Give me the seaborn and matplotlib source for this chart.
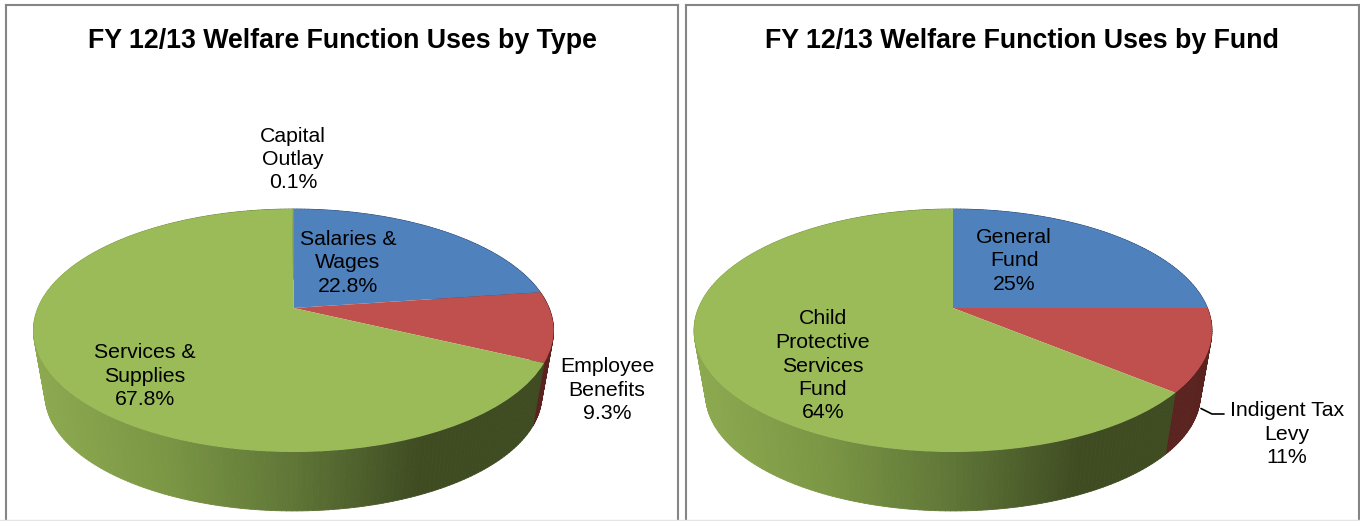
import numpy as np
import matplotlib
matplotlib.use("Agg")
import matplotlib.pyplot as plt
from matplotlib.collections import PolyCollection
from matplotlib.colors import LinearSegmentedColormap
from matplotlib.lines import Line2D
from matplotlib.transforms import Transform
import seaborn as sns

sns.set_theme(style="white")
plt.rcParams["font.family"] = ["Liberation Sans", "DejaVu Sans"]

# Budget shares, in percent
type_title = "FY 12/13 Welfare Function Uses by Type"
type_names = ["Salaries &\nWages", "Employee\nBenefits", "Services &\nSupplies", "Capital\nOutlay"]
type_shares = [22.8, 9.3, 67.8, 0.1]
type_shown = ["22.8%", "9.3%", "67.8%", "0.1%"]

fund_title = "FY 12/13 Welfare Function Uses by Fund"
fund_names = ["General\nFund", "Indigent Tax\nLevy", "Child\nProtective\nServices\nFund"]
fund_shares = [25, 11, 64]
fund_shown = ["25%", "11%", "64%"]

# The capital outlay sliver is too thin to show, so it shares the green
slice_colors = ["#4f81bd", "#c0504d", "#9bbb59", "#9bbb59"]
wall_colors = {"#4f81bd": "#2a4a75", "#c0504d": "#5a2320"}
green_wall = LinearSegmentedColormap.from_list(
    "green_wall", ["#8ca94f", "#7b9644", "#5f7637", "#3f4c22", "#3f4c22"], N=256)

W, H, DPI = 1360, 521, 100
TILT = 0.185          # perspective strength of the disc
DEPTH_Y = 117.3       # vertical scale of the disc, pixels
DROP = 65.5           # pixels between the top face apex and the bottom face apex
SHRINK = 0.955        # bottom face is further away, so a little smaller


class DiscProjection(Transform):
    """Maps the unit pie disc onto a tilted ellipse, in pixel coordinates."""
    input_dims = output_dims = 2
    is_affine = False

    def __init__(self, cx, cy, rx, scale=1.0):
        super().__init__()
        self.cx, self.cy, self.rx, self.scale = cx, cy, rx, scale

    def transform_non_affine(self, values):
        values = np.asarray(values, dtype=float)
        u, v = values[:, 0], values[:, 1]
        w = 1 + TILT * v
        return np.column_stack([
            self.cx + self.scale * self.rx * u / w,
            self.cy - self.scale * DEPTH_Y * v / w,
        ])


def draw_panel(ax, box, title, shares, cx, rx, label_spots, leader=None):
    left, right, top, bottom = box
    wedges, _ = ax.pie(shares, startangle=90, counterclock=False, radius=1,
                       colors=slice_colors[:len(shares)],
                       wedgeprops={"linewidth": 0}, normalize=True)
    ax.set_aspect("auto")
    ax.set_xlim(left, right)
    ax.set_ylim(bottom, top)
    ax.set_xticks([])
    ax.set_yticks([])
    ax.set_frame_on(True)
    for name, spine in ax.spines.items():
        spine.set_visible(name != "bottom")
        spine.set_color("#858585")
        spine.set_linewidth(1.5)

    top_face = DiscProjection(cx, 308, rx)
    low_face = DiscProjection(cx, 308 + DROP, rx, SHRINK)

    # Side wall, built as narrow quads so the green slice can carry its shading
    quads, fills = [], []
    for wedge in wedges:
        steps = np.linspace(wedge.theta1, wedge.theta2, max(2, int(wedge.theta2 - wedge.theta1) + 2))
        rim = np.column_stack([np.cos(np.radians(steps)), np.sin(np.radians(steps))])
        upper, lower = top_face.transform(rim), low_face.transform(rim)
        base = matplotlib.colors.to_hex(wedge.get_facecolor())
        for i in range(len(steps) - 1):
            quads.append([upper[i], upper[i + 1], lower[i + 1], lower[i]])
            mid = (upper[i][0] + upper[i + 1][0]) / 2
            if base == "#9bbb59":
                fills.append(green_wall((mid - (cx - rx)) / (2 * rx)))
            else:
                fills.append(matplotlib.colors.to_rgba(wall_colors[base]))
    walls = PolyCollection(quads, facecolors=fills, edgecolors=fills, linewidths=0.6, zorder=1)
    ax.add_collection(walls)

    for wedge in wedges:
        wedge.set_transform(top_face + ax.transData)
        wedge.set_zorder(2)

    ax.set_title(title, fontsize=19.3, fontweight="bold", color="black", y=0.929, pad=0, va="center")

    for (x, y), text in label_spots:
        ax.text(x, y, text, ha="center", va="center", fontsize=15.3, color="black",
                linespacing=1.3, zorder=3)
    if leader is not None:
        ax.plot(leader[0], leader[1], color="black", linewidth=1.2, zorder=3)


fig = plt.figure(figsize=(W / DPI, H / DPI), dpi=DPI, facecolor="white")


def panel_axes(box):
    left, right, top, bottom = box
    return fig.add_axes([left / W, 1 - bottom / H, (right - left) / W, (bottom - top) / H])


left_box = (6, 678, 4.5, 521)
right_box = (686, 1358.5, 4.5, 521)

draw_panel(panel_axes(left_box), left_box,
           type_title, type_shares, 293.5, 255.6, [
               ((348, 263), f"{type_names[0]}\n{type_shown[0]}"),
               ((607, 390), f"{type_names[1]}\n{type_shown[1]}"),
               ((145, 376), f"{type_names[2]}\n{type_shown[2]}"),
               ((293, 159.5), f"{type_names[3]}\n{type_shown[3]}"),
           ])

draw_panel(panel_axes(right_box), right_box,
           fund_title, fund_shares, 953, 254.5, [
               ((1014, 261), f"{fund_names[0]}\n{fund_shown[0]}"),
               ((1287, 434), f"{fund_names[1]}\n{fund_shown[1]}"),
               ((823, 366), f"{fund_names[2]}\n{fund_shown[2]}"),
           ], leader=([1201, 1212, 1224], [408.5, 414, 414]))

# Faint rule along the foot of the page
fig.add_artist(Line2D([0, 1], [1 - 520 / H, 1 - 520 / H], color="#e4e4e4", linewidth=1.0,
                      transform=fig.transFigure))

fig.savefig("out.png", dpi=DPI, facecolor="white")
